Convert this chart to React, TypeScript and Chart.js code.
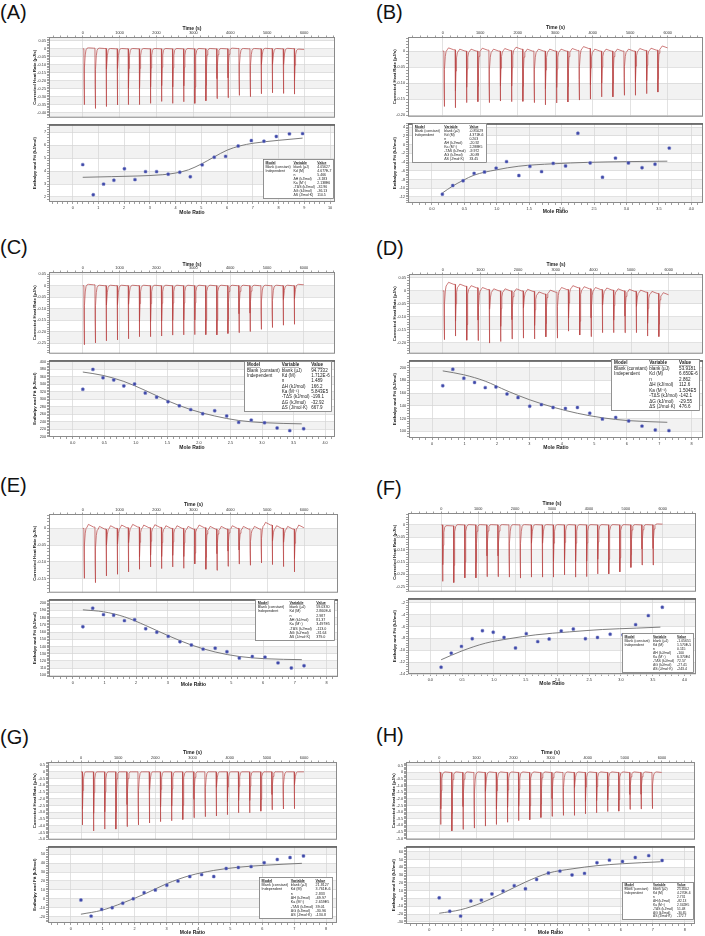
import React, { useEffect, useRef } from 'react';
import { Chart, registerables } from 'chart.js';

Chart.register(...registerables);

const FONT = 'Arial, "Liberation Sans", Helvetica, sans-serif';

// ---- shared experiment schedule ----
const INJ_TIMES = [35, 335, 635, 935, 1235, 1535, 1835, 2135, 2435, 2735, 3035, 3335, 3635, 3935, 4235, 4535, 4835, 5135, 5435, 5735];
const TRACE_END = 6000;
const PEAK_SHAPE: [number, number][] = [[1, 0.6], [5, 1], [10, 0.7], [20, 0.35], [34, 0.12], [55, 0.03], [85, 0]];

const TABLE_HEAD = ['Model', 'Variable', 'Value'];
const TABLE_MODELS = ['Blank (constant)', 'Independent', '', '', '', '', '', ''];
const TABLE_VARS = ['blank (µJ)', 'Kd (M)', 'n', 'ΔH (kJ/mol)', 'Ka (M⁻¹)', '-TΔS (kJ/mol)', 'ΔG (kJ/mol)', 'ΔS (J/mol·K)'];

// ---- Panel A ----
const peaksA = [-0.350, -0.374, -0.362, -0.352, -0.350, -0.350, -0.342, -0.330, -0.342, -0.332, -0.342, -0.326, -0.312, -0.306, -0.292, -0.300, -0.282, -0.276, -0.280, -0.284];
const baseA = [0, 0.004, 0.002, 0, 0, 0, 0, 0, 0, 0, 0, 0, 0, 0, 0.002, 0, 0, 0.001, 0, 0.001, -0.004];
const ratioA = [0.39, 0.80, 1.20, 1.60, 2.01, 2.42, 2.83, 3.26, 3.71, 4.16, 4.57, 5.03, 5.50, 5.94, 6.43, 6.94, 7.43, 7.91, 8.42, 8.93];
const enthA = [4.50, 2.17, 2.99, 3.29, 4.18, 3.34, 3.96, 3.96, 3.76, 3.91, 3.56, 4.48, 5.07, 5.14, 5.94, 6.36, 6.31, 6.68, 6.88, 6.90];
const fitXA = [0.39, 1.5, 2.5, 3.5, 4.0, 4.5, 5.0, 5.5, 6.0, 6.5, 7.0, 8.0, 8.93];
const fitYA = [3.52, 3.57, 3.62, 3.72, 3.85, 4.10, 4.55, 5.10, 5.62, 5.95, 6.15, 6.38, 6.55];
const tableA = ['4.05627', '4.677E-7', '5.466', '-3.183', '2.138E6', '-32.96', '-36.13', '110.5'];

// ---- Panel B ----
const peaksB = [-0.173, -0.177, -0.161, -0.158, -0.161, -0.156, -0.158, -0.157, -0.161, -0.168, -0.162, -0.159, -0.153, -0.150, -0.143, -0.143, -0.138, -0.138, -0.133, -0.128];
const baseB = [0, 0.004, 0, 0, 0.003, 0, 0.002, 0.006, 0, 0, 0, 0, 0.002, 0.008, 0, 0, 0, 0, 0.002, 0.003, 0.01];
const ratioB = [0.16, 0.32, 0.48, 0.65, 0.81, 0.99, 1.15, 1.34, 1.51, 1.69, 1.87, 2.06, 2.25, 2.44, 2.63, 2.83, 3.03, 3.24, 3.44, 3.66];
const enthB = [-11.4, -9.4, -8.3, -6.6, -6.3, -5.4, -3.9, -7.1, -5.0, -6.2, -4.3, -4.9, 2.6, -4.2, -7.5, -3.1, -4.2, -5.3, -4.5, -0.8];
const fitXB = [0.16, 0.32, 0.48, 0.65, 0.99, 1.34, 1.87, 2.4, 3.0, 3.63];
const fitYB = [-11.1, -9.5, -8.2, -7.0, -5.8, -4.95, -4.4, -4.07, -3.9, -3.8];
const tableB = ['-0.85029', '4.371E-6', '0.203', '-20.92', '2.288E5', '-9.972', '-30.89', '33.45'];

// ---- Panel C ----
const peaksC = [-0.257, -0.249, -0.240, -0.236, -0.231, -0.222, -0.222, -0.219, -0.215, -0.214, -0.213, -0.213, -0.214, -0.208, -0.204, -0.199, -0.190, -0.182, -0.172, -0.168];
const baseC = [0, 0.004, 0, 0, 0, 0, 0, 0, 0, 0, 0, 0, 0, 0, 0, 0, 0, 0, 0, 0, 0.004];
const ratioC = [0.16, 0.32, 0.48, 0.65, 0.81, 0.98, 1.15, 1.33, 1.51, 1.69, 1.87, 2.06, 2.25, 2.44, 2.63, 2.83, 3.04, 3.24, 3.44, 3.66];
const enthC = [326, 379, 357, 351, 335, 340, 316, 305, 293, 282, 272, 261, 269, 255, 238, 244, 237, 223, 216, 221];
const fitXC = [0.16, 0.48, 0.81, 1.15, 1.51, 1.87, 2.25, 2.63, 3.04, 3.63];
const fitYC = [372, 363, 347, 323, 295, 272, 255, 243, 237, 234];
const tableC = ['94.7332', '1.712E-6', '1.489', '166.2', '5.843E5', '-199.1', '-32.92', '667.9'];

// ---- Panel D ----
const peaksD = [-0.188, -0.174, -0.190, -0.191, -0.201, -0.195, -0.185, -0.182, -0.185, -0.177, -0.182, -0.155, -0.170, -0.176, -0.161, -0.161, -0.161, -0.161, -0.174, -0.176];
const baseD = [0, 0.025, 0.018, 0.012, 0.005, 0, 0, 0, -0.002, -0.012, -0.005, 0.005, 0.012, 0.008, 0.005, 0.003, 0, -0.002, -0.005, -0.01, -0.015];
const ratioD = [0.33, 0.64, 0.98, 1.31, 1.64, 1.97, 2.31, 2.65, 3.01, 3.37, 3.73, 4.11, 4.48, 4.86, 5.25, 5.66, 6.06, 6.47, 6.88, 7.30];
const enthD = [171.7, 197.5, 183.3, 176.8, 168.7, 169.7, 158.6, 153.0, 139.4, 141.9, 137.4, 135.9, 137.4, 128.3, 119.2, 121.7, 116.2, 108.1, 102.0, 101.0];
const fitXD = [0.33, 0.98, 1.64, 2.31, 3.01, 3.73, 4.48, 5.25, 6.06, 7.25];
const fitYD = [195, 188.9, 178.8, 163.6, 149.5, 137.9, 128.3, 121.2, 116.7, 114.1];
const tableD = ['53.9181', '6.650E-6', '2.862', '112.6', '1.504E5', '-142.1', '-29.55', '476.6'];

// ---- Panel E ----
const peaksE = [-0.149, -0.162, -0.142, -0.137, -0.130, -0.122, -0.115, -0.120, -0.115, -0.119, -0.106, -0.122, -0.125, -0.113, -0.106, -0.110, -0.103, -0.108, -0.114, -0.130];
const baseE = [0, 0.004, -0.002, 0, 0.002, 0.004, 0.002, 0.003, 0, 0, -0.002, 0.002, -0.002, -0.002, 0, -0.002, -0.002, 0.01, 0, -0.002, 0.002];
const ratioE = [0.32, 0.63, 0.97, 1.29, 1.63, 1.95, 2.30, 2.65, 3.01, 3.38, 3.74, 4.11, 4.49, 4.86, 5.25, 5.66, 6.06, 6.47, 6.89, 7.29];
const enthE = [167.3, 192.9, 184.1, 183.2, 175.7, 177.0, 164.6, 159.7, 154.0, 146.5, 142.0, 136.3, 137.6, 132.7, 123.9, 126.1, 125.2, 117.3, 110.2, 113.3];
const fitXE = [0.32, 0.97, 1.63, 2.30, 3.01, 3.74, 4.49, 5.25, 6.06, 7.22];
const fitYE = [190.7, 188, 181, 169, 154.9, 142, 132.3, 126.1, 123, 121.7];
const tableE = ['59.0330', '2.860E-6', '2.987', '81.37', '3.497E5', '-113.0', '-31.64', '379.0'];

// ---- Panel F ----
const peaksF = [-0.228, -0.233, -0.214, -0.214, -0.209, -0.209, -0.211, -0.215, -0.211, -0.211, -0.211, -0.202, -0.211, -0.209, -0.198, -0.198, -0.190, -0.172, -0.162, -0.162];
const baseF = [0, -0.004, 0, 0, 0, 0, 0, 0, 0, 0, 0, 0, 0, 0, 0, 0, 0, 0, 0, 0, 0.003];
const ratioF = [0.17, 0.33, 0.49, 0.66, 0.82, 0.99, 1.16, 1.34, 1.51, 1.69, 1.87, 2.06, 2.25, 2.44, 2.63, 2.83, 3.03, 3.23, 3.43, 3.65];
const enthF = [-12.86, -10.49, -9.35, -8.05, -6.70, -6.97, -7.84, -9.62, -7.19, -8.54, -8.11, -6.76, -6.43, -8.05, -7.84, -7.30, -7.41, -5.68, -4.16, -2.76];
const fitXF = [0.17, 0.5, 0.87, 1.24, 1.66, 2.19, 2.71, 3.24, 3.62];
const fitYF = [-11.6, -10.1, -8.8, -8.05, -7.4, -6.9, -6.5, -6.27, -6.1];
const tableF = ['-1.05651', '1.570E-5', '0.115', '-100', '6.370E4', '72.57', '-27.41', '-243.4'];

// ---- Panel G ----
const peaksG = [-3.94, -4.39, -4.25, -4.25, -4.06, -3.94, -3.80, -3.70, -3.63, -3.54, -3.40, -3.33, -3.28, -3.18, -3.04, -3.04, -2.92, -2.81, -2.76, -2.74];
const baseG = [0, 0, 0, 0, 0, 0, 0, 0, 0, 0, 0, 0, 0, 0, 0, 0, 0, 0, 0, 0, 0];
const ratioG = [0.32, 0.64, 0.97, 1.30, 1.63, 1.96, 2.30, 2.65, 3.01, 3.36, 3.73, 4.10, 4.48, 4.87, 5.25, 5.65, 6.06, 6.47, 6.87, 7.29];
const enthG = [-1.45, -19.6, -11.96, -10.1, -5.07, 0, 6.9, 9.8, 15.2, 19.9, 25.0, 27.2, 25.0, 34.1, 35.2, 36.2, 40.6, 44.2, 46.4, 48.2];
const fitXG = [0.32, 0.97, 1.63, 2.30, 3.01, 3.73, 4.48, 5.25, 6.06, 7.24];
const fitYG = [-17.4, -13, -4.7, 5.1, 17, 26.1, 31.9, 35.5, 37.7, 39.9];
const tableG = ['21.8127', '3.761E-6', '2.833', '-69.97', '2.659E5', '39.01', '-30.96', '-130.8'];

// ---- Panel H ----
const peaksH = [-3.94, -4.42, -4.30, -4.21, -4.06, -3.94, -3.77, -3.65, -3.58, -3.41, -3.32, -3.25, -3.25, -3.13, -3.05, -2.96, -2.93, -2.79, -2.76, -2.74];
const baseH = [0, 0, 0, 0, 0, 0, 0, 0, 0, 0, 0, 0, 0, 0, 0, 0, 0, 0, 0, 0, 0];
const ratioH = [0.31, 0.64, 0.98, 1.30, 1.63, 1.96, 2.31, 2.66, 3.01, 3.36, 3.73, 4.09, 4.47, 4.86, 5.25, 5.64, 6.05, 6.45, 6.87, 7.29];
const enthH = [0.8, -16.5, -22.7, -3.3, -2.1, 5.8, 9.5, 16.5, 12.4, 24.4, 32.6, 35.1, 30.2, 32.2, 45.9, 49.2, 47.5, 52.6, 55.0, 48.8];
const fitXH = [0.31, 0.98, 1.63, 2.31, 3.01, 3.73, 4.47, 5.25, 6.05, 7.24];
const fitYH = [-19, -14.5, -5.8, 7, 21, 32.6, 38, 42.1, 44.6, 47.1];
const tableH = ['25.4502', '4.270E-6', '2.731', '-82.13', '2.342E5', '51.48', '-30.65', '-172.7'];

type PanelCfg = {
  label: string; labelX: number; labelY: number;
  L: number; R: number; T: number; sep: number; B: number;
  yTitleX: number; topTitleY: number; botTitleY: number;
  tMin: number; tMax: number;
  rMin: number; rMax: number; rMajor: number; rDec: number;
  yTopMin: number; yTopMax: number; yTopMajor: number; yTopDec: number;
  yBotMin: number; yBotMax: number; yBotMajor: number;
  peaks: number[]; base: number[]; over: number;
  ratio: number[]; enth: number[]; fitX: number[]; fitY: number[];
  table: string[]; tb: [number, number, number, number];
};

const PANELS: PanelCfg[] = [
  { label: '(A)', labelX: 0, labelY: 1, L: 49, R: 335, T: 37, sep: 121, B: 202, yTitleX: 35, topTitleY: 29, botTitleY: 212.7,
    tMin: -913, tMax: 6837, rMin: -0.92, rMax: 10.19, rMajor: 1, rDec: 0,
    yTopMin: -0.432, yTopMax: 0.074, yTopMajor: 0.05, yTopDec: 2, yBotMin: 1.61, yBotMax: 7.62, yBotMajor: 1,
    peaks: peaksA, base: baseA, over: 0.002, ratio: ratioA, enth: enthA, fitX: fitXA, fitY: fitYA, table: tableA, tb: [263, 159, 71, 40] },
  { label: '(B)', labelX: 376, labelY: 1, L: 408, R: 703, T: 37, sep: 120, B: 203, yTitleX: 394.7, topTitleY: 28.3, botTitleY: 212.3,
    tMin: -925, tMax: 6941, rMin: -0.37, rMax: 4.18, rMajor: 0.5, rDec: 1,
    yTopMin: -0.205, yTopMax: 0.044, yTopMajor: 0.05, yTopDec: 2, yBotMin: -13.4, yBotMax: 4.9, yBotMajor: 2,
    peaks: peaksB, base: baseB, over: 0.006, ratio: ratioB, enth: enthB, fitX: fitXB, fitY: fitYB, table: tableB, tb: [412, 123, 75, 40] },
  { label: '(C)', labelX: 0, labelY: 236, L: 49, R: 335, T: 272, sep: 357, B: 437, yTitleX: 35, topTitleY: 265, botTitleY: 448.3,
    tMin: -914, tMax: 6842, rMin: -0.376, rMax: 4.157, rMajor: 0.5, rDec: 1,
    yTopMin: -0.296, yTopMax: 0.0596, yTopMajor: 0.05, yTopDec: 2, yBotMin: 199, yBotMax: 403.3, yBotMajor: 20,
    peaks: peaksC, base: baseC, over: 0.002, ratio: ratioC, enth: enthC, fitX: fitXC, fitY: fitYC, table: tableC, tb: [244, 361, 88, 51] },
  { label: '(D)', labelX: 376, labelY: 237, L: 409, R: 703, T: 274, sep: 357, B: 438, yTitleX: 394.7, topTitleY: 265, botTitleY: 448.3,
    tMin: -895, tMax: 6910, rMin: -0.71, rMax: 8.35, rMajor: 1, rDec: 0,
    yTopMin: -0.242, yTopMax: 0.065, yTopMajor: 0.05, yTopDec: 2, yBotMin: 89.4, yBotMax: 211.7, yBotMajor: 20,
    peaks: peaksD, base: baseD, over: 0.008, ratio: ratioD, enth: enthD, fitX: fitXD, fitY: fitYD, table: tableD, tb: [611, 359, 89, 52] },
  { label: '(E)', labelX: 0, labelY: 474, L: 49, R: 338, T: 514, sep: 596, B: 677, yTitleX: 35, topTitleY: 505, botTitleY: 685,
    tMin: -913, tMax: 6919, rMin: -0.747, rMax: 8.36, rMajor: 1, rDec: 0,
    yTopMin: -0.192, yTopMax: 0.043, yTopMajor: 0.05, yTopDec: 2, yBotMin: 97.7, yBotMax: 205.3, yBotMajor: 10,
    peaks: peaksE, base: baseE, over: 0.008, ratio: ratioE, enth: enthE, fitX: fitXE, fitY: fitYE, table: tableE, tb: [255, 599, 80, 42] },
  { label: '(F)', labelX: 376, labelY: 477, L: 408, R: 696, T: 513, sep: 595, B: 674, yTitleX: 394.7, topTitleY: 504.3, botTitleY: 684.3,
    tMin: -902, tMax: 6902, rMin: -0.351, rMax: 4.18, rMajor: 0.5, rDec: 1,
    yTopMin: -0.27, yTopMax: 0.048, yTopMajor: 0.05, yTopDec: 2, yBotMin: -14.0, yBotMax: -1.24, yBotMajor: 2,
    peaks: peaksF, base: baseF, over: 0.001, ratio: ratioF, enth: enthF, fitX: fitXF, fitY: fitYF, table: tableF, tb: [622, 633, 72, 40] },
  { label: '(G)', labelX: 0, labelY: 726, L: 48, R: 337, T: 762, sep: 843, B: 923, yTitleX: 35, topTitleY: 753.3, botTitleY: 932.7,
    tMin: -888, tMax: 6887, rMin: -0.711, rMax: 8.34, rMajor: 1, rDec: 0,
    yTopMin: -5.04, yTopMax: 0.73, yTopMajor: 0.5, yTopDec: 1, yBotMin: -27.3, yBotMax: 59.1, yBotMajor: 10,
    peaks: peaksG, base: baseG, over: 0, ratio: ratioG, enth: enthG, fitX: fitXG, fitY: fitYG, table: tableG, tb: [259, 877, 74, 42] },
  { label: '(H)', labelX: 376, labelY: 724, L: 406, R: 695, T: 762, sep: 843, B: 924, yTitleX: 393.7, topTitleY: 753.3, botTitleY: 932.7,
    tMin: -898, tMax: 6892, rMin: -0.73, rMax: 8.32, rMajor: 1, rDec: 0,
    yTopMin: -5.09, yTopMax: 0.79, yTopMajor: 0.5, yTopDec: 1, yBotMin: -32.8, yBotMax: 67, yBotMajor: 10,
    peaks: peaksH, base: baseH, over: 0.04, ratio: ratioH, enth: enthH, fitX: fitXH, fitY: fitYH, table: tableH, tb: [622, 882, 72, 38] },
];

function buildTrace(peaks: number[], base: number[], over: number) {
  const pts: { x: number; y: number }[] = [{ x: 0, y: base[0] }];
  peaks.forEach((p, k) => {
    const t = INJ_TIMES[k];
    const b0 = base[k];
    const b1 = base[k + 1];
    pts.push({ x: t - 3, y: b0 });
    for (const [dt, f] of PEAK_SHAPE) pts.push({ x: t + dt, y: b1 + f * (p - b1) });
    pts.push({ x: t + 120, y: b1 + over });
    pts.push({ x: t + 260, y: b1 });
  });
  pts.push({ x: TRACE_END, y: base[base.length - 1] });
  return pts;
}

const isMajor = (v: number, major: number) => Math.abs(v / major - Math.round(v / major)) < 1e-6;
const fmt = (v: number, dec: number, zeroPlain: boolean) =>
  Math.abs(v) < 1e-9 ? (zeroPlain ? '0' : (0).toFixed(dec)) : v.toFixed(dec);

function makeTicks(min: number, max: number, step: number) {
  const out: { value: number }[] = [];
  const s = Math.ceil(min / step - 1e-9);
  const e = Math.floor(max / step + 1e-9);
  for (let i = s; i <= e; i++) out.push({ value: +(i * step).toFixed(10) });
  return out;
}

function makeAxis(o: {
  pos: string; min: number; max: number; major: number; minor: number; dec: number; zeroPlain: boolean;
  title: string; titleSize: number; size: number; tickLen: number; pad: number; horizontal: boolean;
}) {
  return {
    type: 'linear',
    position: o.pos,
    min: o.min,
    max: o.max,
    bounds: 'data',
    afterBuildTicks: (s: any) => { s.ticks = makeTicks(s.min, s.max, o.minor); },
    afterFit: (s: any) => { if (o.horizontal) s.height = o.size; else s.width = o.size; },
    ticks: {
      autoSkip: false, maxRotation: 0, minRotation: 0, padding: o.pad,
      font: { size: 3.8, family: FONT }, color: '#333',
      callback: (v: any) => (isMajor(Number(v), o.major) ? fmt(Number(v), o.dec, o.zeroPlain) : ''),
    },
    grid: {
      color: (ctx: any) => (ctx.tick && isMajor(ctx.tick.value, o.major) ? '#d6d6d6' : 'rgba(0,0,0,0)'),
      tickColor: '#777', tickLength: o.tickLen, lineWidth: 0.7, drawTicks: true,
    },
    border: { display: false },
    title: { display: true, text: o.title, color: '#222', padding: 0, font: { size: o.titleSize, weight: 'bold', family: FONT } },
  };
}

const bandsPlugin = {
  id: 'bands',
  beforeDraw(chart: any, _a: any, opts: any) {
    const { ctx, chartArea: a, scales } = chart;
    const y = scales.y;
    const major = opts.major;
    ctx.save();
    ctx.fillStyle = '#f2f2f2';
    const k0 = Math.floor(y.min / major);
    const k1 = Math.ceil(y.max / major);
    for (let k = k0; k < k1; k++) {
      if (Math.abs(k) % 2 !== 1) continue;
      const v0 = Math.max(k * major, y.min);
      const v1 = Math.min((k + 1) * major, y.max);
      if (v1 <= v0) continue;
      const p0 = y.getPixelForValue(v0);
      const p1 = y.getPixelForValue(v1);
      ctx.fillRect(a.left, p1, a.right - a.left, p0 - p1);
    }
    ctx.restore();
  },
};

const framePlugin = {
  id: 'frame',
  afterDraw(chart: any, _a: any, opts: any) {
    const { ctx, chartArea: a } = chart;
    ctx.save();
    ctx.strokeStyle = '#8a8a8a';
    ctx.lineWidth = 1;
    ctx.strokeRect(a.left + 0.5, a.top + 0.5, a.right - a.left - 1, a.bottom - a.top - 1);
    if (opts.sepTop) {
      ctx.strokeStyle = '#5a5a5a';
      ctx.lineWidth = 1.5;
      ctx.beginPath();
      ctx.moveTo(a.left, a.top + 0.75);
      ctx.lineTo(a.right, a.top + 0.75);
      ctx.stroke();
    }
    ctx.restore();
  },
};

const tablePlugin = {
  id: 'table',
  afterDraw(chart: any, _a: any, opts: any) {
    if (!opts || !opts.values) return;
    const { ctx } = chart;
    const { x, y, w, h, values } = opts;
    ctx.save();
    ctx.fillStyle = '#ffffff';
    ctx.fillRect(x, y, w, h);
    ctx.strokeStyle = '#777';
    ctx.lineWidth = 0.8;
    ctx.strokeRect(x + 0.5, y + 0.5, w - 1, h - 1);
    const rowH = (h - 3) / 9;
    const fs = rowH * 0.85;
    const cols = [x + w * 0.035, x + w * 0.43, x + w * 0.765];
    ctx.textBaseline = 'middle';
    ctx.textAlign = 'left';
    ctx.fillStyle = '#222';
    ctx.font = `bold ${fs}px ${FONT}`;
    const y0 = y + 1.5 + rowH / 2;
    TABLE_HEAD.forEach((t, i) => {
      ctx.fillText(t, cols[i], y0);
      const tw = ctx.measureText(t).width;
      ctx.strokeStyle = '#444';
      ctx.lineWidth = 0.4;
      ctx.beginPath();
      ctx.moveTo(cols[i], y0 + fs * 0.5);
      ctx.lineTo(cols[i] + tw, y0 + fs * 0.5);
      ctx.stroke();
    });
    ctx.font = `${fs}px ${FONT}`;
    for (let r = 0; r < 8; r++) {
      const yy = y0 + (r + 1) * rowH;
      if (TABLE_MODELS[r]) ctx.fillText(TABLE_MODELS[r], cols[0], yy);
      ctx.fillText(TABLE_VARS[r], cols[1], yy);
      ctx.fillText(values[r], cols[2], yy);
    }
    ctx.restore();
  },
};

function geometry(p: PanelCfg) {
  const Wy = Math.round(p.L - p.yTitleX + 2.6);
  const x = p.L - Wy;
  const w = p.R - x + 2;
  const Htop = Math.round(p.T - p.topTitleY + 3);
  const yTop = p.T - Htop;
  const hTop = p.sep - yTop;
  const Hbot = Math.round(p.botTitleY - p.B + 3);
  const yBot = p.sep;
  const hBot = p.B - p.sep + Hbot;
  return { Wy, x, w, Htop, yTop, hTop, Hbot, yBot, hBot };
}

const baseOptions = () => ({
  responsive: false,
  animation: false,
  events: [],
  devicePixelRatio: 1,
  layout: { padding: { left: 0, right: 2, top: 0, bottom: 0 }, autoPadding: false },
});

function topConfig(p: PanelCfg, g: ReturnType<typeof geometry>): any {
  return {
    type: 'scatter',
    data: {
      datasets: [{
        data: buildTrace(p.peaks, p.base, p.over), showLine: true, borderColor: '#b94444', borderWidth: 0.7,
        pointRadius: 0, tension: 0,
      }],
    },
    options: {
      ...baseOptions(),
      plugins: { legend: { display: false }, tooltip: { enabled: false }, bands: { major: p.yTopMajor }, frame: { sepTop: false } },
      scales: {
        x: makeAxis({ pos: 'top', min: p.tMin, max: p.tMax, major: 1000, minor: 200, dec: 0, zeroPlain: true, title: 'Time (s)', titleSize: 5, size: g.Htop, tickLen: 1.5, pad: 0, horizontal: true }),
        y: makeAxis({ pos: 'left', min: p.yTopMin, max: p.yTopMax, major: p.yTopMajor, minor: p.yTopMajor / 5, dec: p.yTopDec, zeroPlain: true, title: 'Corrected Heat Rate (µJ/s)', titleSize: 4.4, size: g.Wy, tickLen: 2, pad: 1, horizontal: false }),
      },
    },
    plugins: [bandsPlugin, framePlugin],
  };
}

function botConfig(p: PanelCfg, g: ReturnType<typeof geometry>): any {
  return {
    type: 'scatter',
    data: {
      datasets: [
        {
          data: p.ratio.map((x, i) => ({ x, y: p.enth[i] })), showLine: false, pointStyle: 'rectRounded', pointRadius: 1.7,
          backgroundColor: '#3d47a8', borderColor: '#8088c8', borderWidth: 0.5,
        },
        {
          data: p.fitX.map((x, i) => ({ x, y: p.fitY[i] })), showLine: true, borderColor: '#6e6e6e', borderWidth: 0.9,
          pointRadius: 0, cubicInterpolationMode: 'monotone',
        },
      ],
    },
    options: {
      ...baseOptions(),
      plugins: {
        legend: { display: false }, tooltip: { enabled: false }, bands: { major: p.yBotMajor }, frame: { sepTop: true },
        table: { x: p.tb[0] - g.x, y: p.tb[1] - g.yBot, w: p.tb[2], h: p.tb[3], values: p.table },
      },
      scales: {
        x: makeAxis({ pos: 'bottom', min: p.rMin, max: p.rMax, major: p.rMajor, minor: p.rMajor / 5, dec: p.rDec, zeroPlain: false, title: 'Mole Ratio', titleSize: 5, size: g.Hbot, tickLen: 2, pad: 1.5, horizontal: true }),
        y: makeAxis({ pos: 'left', min: p.yBotMin, max: p.yBotMax, major: p.yBotMajor, minor: p.yBotMajor / 5, dec: 0, zeroPlain: true, title: 'Enthalpy and Fit (kJ/mol)', titleSize: 4.4, size: g.Wy, tickLen: 2, pad: 1, horizontal: false }),
      },
    },
    plugins: [bandsPlugin, framePlugin, tablePlugin],
  };
}

function Panel({ p }: { p: PanelCfg }) {
  const topRef = useRef<HTMLCanvasElement>(null);
  const botRef = useRef<HTMLCanvasElement>(null);
  const g = geometry(p);
  useEffect(() => {
    const c1 = new Chart(topRef.current as HTMLCanvasElement, topConfig(p, g));
    const c2 = new Chart(botRef.current as HTMLCanvasElement, botConfig(p, g));
    return () => { c1.destroy(); c2.destroy(); };
  }, []);
  return (
    <>
      <div style={{ position: 'absolute', left: p.labelX, top: p.labelY, fontFamily: FONT, fontSize: 20, lineHeight: '23px', color: '#111' }}>{p.label}</div>
      <canvas ref={topRef} width={g.w} height={g.hTop} style={{ position: 'absolute', left: g.x, top: g.yTop, width: g.w, height: g.hTop }} />
      <canvas ref={botRef} width={g.w} height={g.hBot} style={{ position: 'absolute', left: g.x, top: g.yBot, width: g.w, height: g.hBot }} />
    </>
  );
}

export default function App() {
  return (
    <div style={{ position: 'absolute', left: 0, top: 0, width: 705, height: 936, background: '#fff', overflow: 'hidden' }}>
      {PANELS.map((p) => <Panel key={p.label} p={p} />)}
    </div>
  );
}
